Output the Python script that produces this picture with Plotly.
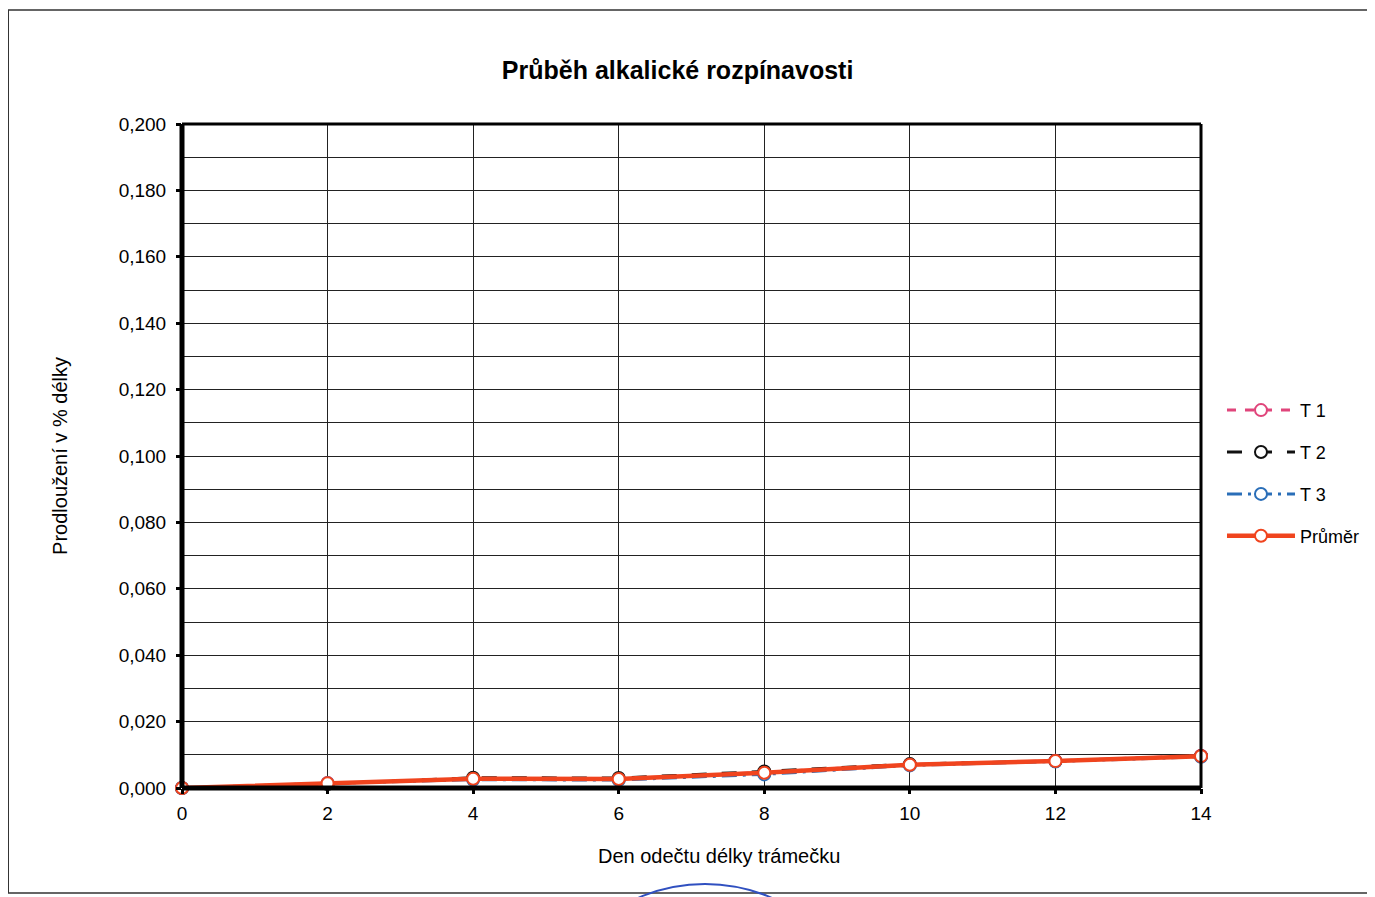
import plotly.graph_objects as go

days = [0, 2, 4, 6, 8, 10, 12, 14]
t1 = [0.0, 0.0015, 0.0028, 0.0027, 0.0047, 0.0071, 0.0082, 0.0097]
t2 = [0.0, 0.0012, 0.0031, 0.0030, 0.0050, 0.0072, 0.0081, 0.0096]
t3 = [0.0, 0.0014, 0.0025, 0.0024, 0.0041, 0.0068, 0.0080, 0.0094]
prumer = [0.0, 0.0014, 0.0028, 0.0027, 0.0046, 0.0070, 0.0081, 0.0096]

x_ticks = [0, 2, 4, 6, 8, 10, 12, 14]
y_ticks = [0.0, 0.02, 0.04, 0.06, 0.08, 0.10, 0.12, 0.14, 0.16, 0.18, 0.20]

FONT = "Liberation Sans, Arial, sans-serif"

fig = go.Figure()
series = [
    ("T 1", t1, "#E0457B", "dash", 3),
    ("T 2", t2, "#111111", "longdash", 3),
    ("T 3", t3, "#2A6EB8", "longdashdot", 3),
    ("Průměr", prumer, "#F0441E", "solid", 4.5),
]
for i, (name, vals, col, dash, w) in enumerate(series):
    fig.add_trace(go.Scatter(
        x=days, y=vals, name=name, mode="lines+markers",
        legendgroup=f"g{i}", cliponaxis=False,
        line=dict(color=col, width=w, dash=dash),
        marker=dict(symbol="circle", size=12, color="white",
                    line=dict(color=col, width=2)),
    ))

fig.update_layout(
    width=1375, height=897,
    paper_bgcolor="white", plot_bgcolor="white",
    separators=", ",
    font=dict(family=FONT, color="#000000", size=18),
    margin=dict(l=174, r=182, t=116, b=117),
    title=dict(text="<b>Průběh alkalické rozpínavosti</b>", x=0.487, xanchor="center",
               y=0.931, yanchor="middle", font=dict(size=25, family=FONT)),
    legend=dict(x=1.0206, xanchor="left", y=0.5965, yanchor="top",
                font=dict(size=18, family=FONT), tracegroupgap=15.5,
                traceorder="grouped", itemwidth=68, bgcolor="rgba(0,0,0,0)"),
    showlegend=True,
)

fig.update_xaxes(
    range=[0, 14], tickvals=x_ticks, ticktext=[str(v) for v in x_ticks],
    showgrid=True, gridcolor="#222222", gridwidth=1,
    zeroline=False, ticks="outside", ticklen=5, tickwidth=3, tickcolor="black",
    tickfont=dict(size=19, family=FONT), ticklabelstandoff=3,
    showline=False,
)
fig.update_yaxes(
    range=[0, 0.2], tickvals=y_ticks, tickformat=".3f",
    showgrid=True, gridcolor="#222222", gridwidth=1,
    minor=dict(dtick=0.01, showgrid=True, gridcolor="#222222", gridwidth=1),
    zeroline=False, ticks="outside", ticklen=5, tickwidth=3, tickcolor="black",
    tickfont=dict(size=19, family=FONT), ticklabelstandoff=6,
    title=dict(text="Prodloužení v % délky", font=dict(size=20, family=FONT), standoff=45),
    showline=False,
)

# x-axis title (offset to the right of plot centre, as in the original)
fig.add_annotation(text="Den odečtu délky trámečku", xref="paper", yref="paper",
                   x=0.527, y=-0.1024, xanchor="center", yanchor="middle",
                   showarrow=False, font=dict(size=20, family=FONT))

# plot frame: heavy left/bottom, lighter top/right
fig.add_shape(type="line", xref="paper", yref="paper", x0=0, x1=0, y0=0, y1=1,
              line=dict(color="black", width=5))
fig.add_shape(type="line", xref="paper", yref="paper", x0=0, x1=1, y0=0, y1=0,
              line=dict(color="black", width=5))
fig.add_shape(type="line", xref="paper", yref="paper", x0=0, x1=1, y0=1, y1=1,
              line=dict(color="black", width=3))
fig.add_shape(type="line", xref="paper", yref="paper", x0=1, x1=1, y0=0, y1=1,
              line=dict(color="black", width=3))

# outer chart-area border
fig.add_shape(type="rect", xref="paper", yref="paper",
              x0=-0.1705, x1=1.19, y0=-0.158, y1=1.1717,
              line=dict(color="#333333", width=1.5), layer="below")

# stamp fragment at the bottom edge
fig.add_shape(type="circle", xref="paper", yref="paper",
              x0=0.3474, x1=0.6791, y0=-0.6536, y1=-0.1446,
              line=dict(color="#3050C0", width=2), layer="below")

fig.write_html("out.html")
